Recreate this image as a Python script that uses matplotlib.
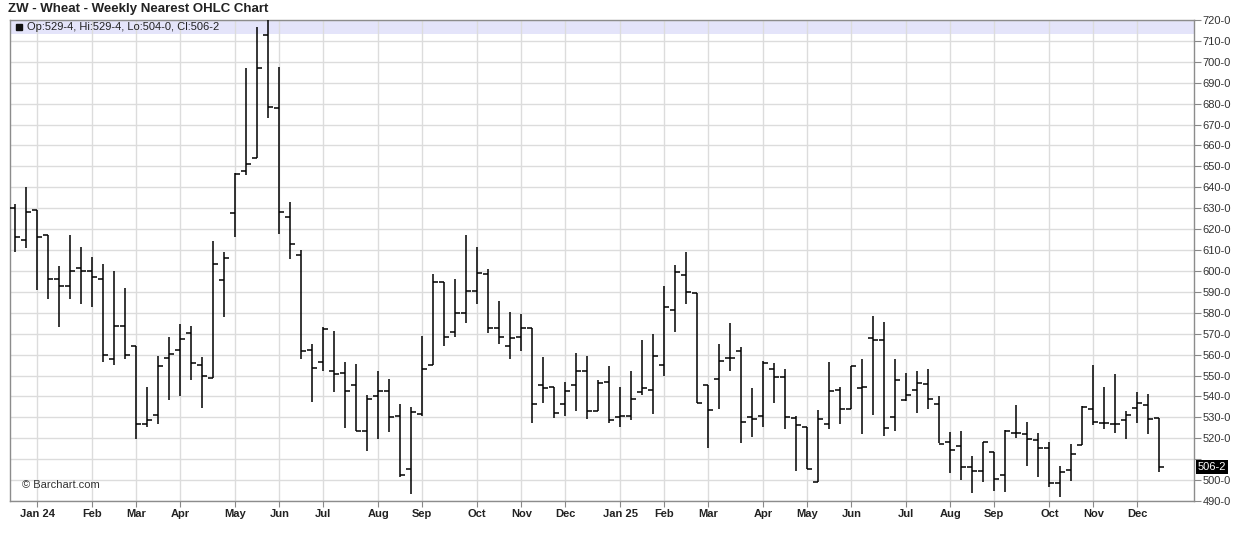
import matplotlib
matplotlib.use("Agg")
import matplotlib.pyplot as plt
import matplotlib.transforms as mtransforms
import numpy as np
import pandas as pd

plt.rcParams['font.family'] = ['Liberation Sans', 'DejaVu Sans']

# weekly bars, Monday dates
dates = pd.date_range("2023-12-18", periods=105, freq="W-MON")

opens = [630, 615, 629, 617, 596, 593, 601.5, 600, 596, 558, 573.7, 564, 526.7, 531, 558.6,
	562.3, 570.2, 555, 548.7, 595.8, 627.8, 647.9, 653.8, 713, 677.9, 625.6, 607.7, 562.3, 556.5, 552.2,
	551.1, 545.5, 523.5, 540.3, 542.6, 530.7, 505.2, 531.6, 555.1, 594.6, 570.6, 579.8, 590.2, 598.5, 572.6,
	563.9, 568.6, 572.6, 545.5, 544.4, 536.3, 545.5, 552.2, 532.8, 546.9, 530.4, 530.7, 541.9, 543.1, 555.1,
	581.1, 598, 589.4, 545.5, 548.2, 558.6, 561.5, 530, 530.7, 553.2, 549.1, 529.6, 525.6, 499.3, 526.7,
	543.1, 534, 543.9, 567.8, 567, 530.4, 538.3, 543.1, 545.8, 536.3, 518, 516.3, 506.1, 504.5, 513.3,
	502.6, 522.7, 521.9, 519.2, 515.2, 498.8, 504.8, 516.8, 534, 527.5, 526.7, 528.5, 534.6, 535.7, 529.5]
highs = [632, 640, 629, 617, 602.6, 617, 611.4, 606.6, 603.4, 600, 592, 564, 544.7, 559.4, 568.3,
	574.7, 573.7, 558.8, 614.4, 609, 646.8, 697.2, 716.8, 720.5, 697.5, 633, 610, 565.1, 573, 571.4,
	556.7, 555.6, 540.7, 552.4, 548.2, 536.4, 535, 569, 598.6, 594.6, 596, 617, 611.4, 600.9, 585.7,
	580.3, 579.5, 572.6, 558.8, 544.7, 546.8, 561, 559.4, 548, 554.6, 544.4, 552.2, 567, 570, 592.6,
	602.9, 609, 589.4, 545.5, 565.1, 575.3, 563.5, 544.2, 557, 555.9, 552.9, 530.7, 525.6, 533.5, 556.7,
	544.4, 554.6, 557.8, 578.5, 575.6, 557.8, 551.4, 552.2, 553, 540.3, 523.2, 523.5, 511.6, 518.4, 513.3,
	524, 536, 528, 522.4, 518.4, 506.9, 517.4, 535.5, 554.8, 544.7, 550.8, 533.2, 541.9, 541.1, 529.5]
lows = [609, 611, 591, 586.7, 573, 586.7, 584, 583, 556.7, 555, 558, 519.5, 525.5, 526.7, 538.3,
	540, 548, 534.4, 548.7, 577.9, 616.2, 646, 653.8, 673, 617.8, 605.6, 557.8, 537.5, 552.4, 541.9,
	525.1, 523.5, 514, 519.5, 523.2, 501.4, 493.2, 530.7, 555, 563.9, 568.6, 575.3, 584, 570.2, 565,
	557.8, 561.9, 527.5, 536.7, 529.6, 530.7, 532.8, 529, 532.8, 527.2, 525.6, 528.5, 540.7, 531.6, 550,
	571, 584, 536.7, 515.2, 533.8, 552.2, 517.6, 520.5, 525.6, 536.7, 524.3, 504.5, 505.2, 499.3, 524.3,
	526.7, 534, 521.9, 531, 521.3, 523.5, 537.9, 531.9, 533.8, 517.9, 503.6, 500, 494, 499, 495,
	494.5, 520, 506.8, 501.7, 496.6, 492, 499.8, 516.8, 526.4, 524.3, 522.4, 519.5, 527.2, 521.9, 504]
closes = [616, 628.3, 616, 596, 593, 600, 600, 597, 560, 573.7, 560, 526.7, 528.6, 554.6, 560.3,
	567.4, 555.9, 550, 603.3, 606.3, 646.5, 651, 697, 678.4, 628, 612.8, 561.8, 553.5, 572.2, 550.6,
	542.6, 523.5, 539, 542.6, 530.2, 502.5, 532.6, 553.2, 594.6, 568.3, 579.8, 590.2, 599, 572.6, 568.6,
	567.8, 572.6, 536.3, 544.2, 532, 542.6, 552.2, 532.8, 546.3, 528.7, 530.7, 538.8, 543.9, 559.4, 582.7,
	599.7, 590, 536.7, 533.5, 557, 558.3, 528, 529.1, 556.2, 549.1, 530.4, 526.4, 505.2, 529.1, 542.6,
	534, 554.6, 544.7, 567, 524.8, 547.8, 540.7, 546.3, 538.6, 517.1, 514.4, 506.4, 504.5, 518.4, 500.3,
	523.3, 522.4, 519.5, 515.2, 498.8, 504.1, 512.5, 535, 527.7, 527.2, 526.7, 531.2, 537, 529.4, 506.25]

y_ticks = list(range(490, 721, 10))
legend_text = "Op:529-4, Hi:529-4, Lo:504-0, Cl:506-2"
last_label = "506-2"

fig = plt.figure(figsize=(12.36, 5.42), dpi=100)
ax = fig.add_axes([10/1236, 41/542, 1184/1236, 481/542])

x = np.arange(len(dates))
w = 0.45
ax.vlines(x, lows, highs, color="black", lw=1.1, zorder=3)
ax.hlines(opens, x - w, x, color="black", lw=1.1, zorder=3)
ax.hlines(closes, x, x + w, color="black", lw=1.1, zorder=3)

# month ticks at the first bar of each month
mt = [i for i in range(1, len(dates)) if dates[i].month != dates[i-1].month]
ml = [d.strftime("%b %y") if d.month == 1 else d.strftime("%b") for d in dates[mt]]
ax.set_xticks(mt)
ax.set_xticklabels(ml, fontweight="bold", fontsize=8, color="#222")
ax.set_xlim(-0.48, 107.15)

# the last-price box hides the nearest price label
ylabs = ["" if abs(v - closes[-1]) < 6 else "%d-0" % v for v in y_ticks]
ax.set_ylim(490, 720)
ax.set_yticks(y_ticks)
ax.set_yticklabels(ylabs, fontsize=8, color="#333")
ax.yaxis.tick_right()
ax.tick_params(axis="y", length=5, color="#888", pad=1)
ax.tick_params(axis="x", length=4, color="#888", pad=2)

ax.grid(True, color="#dcdcdc", lw=1, zorder=0)
ax.set_axisbelow(True)
for s in ax.spines.values():
	s.set_color("#8c8c8c")
	s.set_linewidth(1)

trans = mtransforms.blended_transform_factory(ax.transAxes, ax.transData)
ax.axhspan(713.1, 720, color="#e4e4fa", zorder=0.5, lw=0)
ax.plot([0.0078], [716.5], marker="s", ms=5, color="#111", transform=trans, zorder=4, clip_on=False)
ax.text(0.0145, 716.5, legend_text, transform=trans, fontsize=8, color="#222", va="center", zorder=4)
ax.text(0.0105, 0.028, "\u00a9 Barchart.com", transform=ax.transAxes, fontsize=8, color="#333")

ax.text(1.003, closes[-1], last_label, transform=trans, fontsize=8, color="white",
	va="center", ha="left", bbox=dict(facecolor="black", edgecolor="none", pad=1.3))

fig.text(8/1236, 1 - 9/542, "ZW - Wheat - Weekly Nearest OHLC Chart", fontsize=9.5,
	fontweight="bold", color="#222", va="center")

fig.savefig("out.png", dpi=100)
